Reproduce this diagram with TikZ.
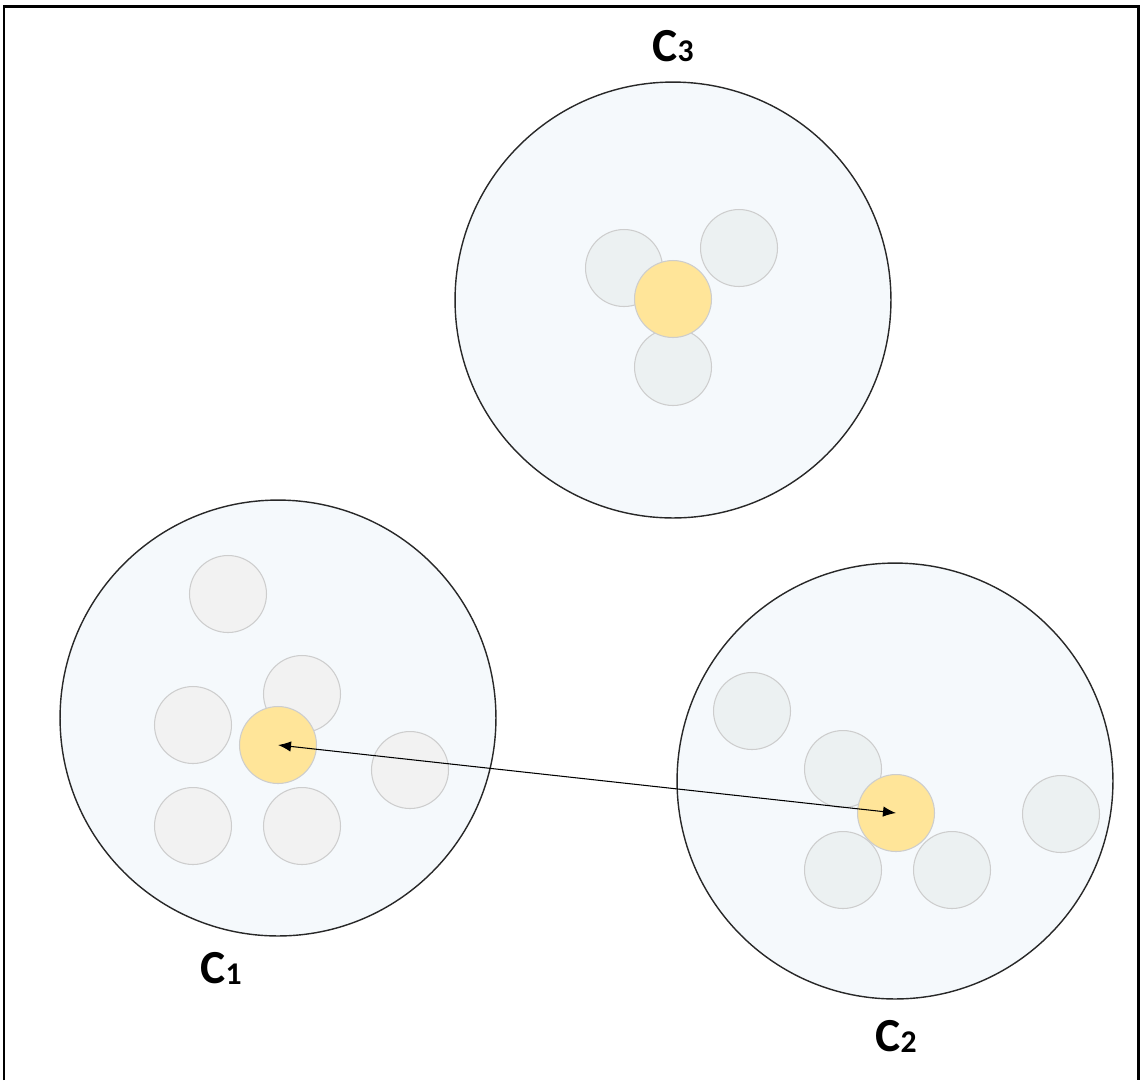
\documentclass[tikz,border=0pt]{standalone}
\usepackage{fontspec}
\setmainfont{Carlito}
\usetikzlibrary{arrows.meta}
\definecolor{clfill}{RGB}{245,249,252}
\definecolor{clline}{RGB}{40,40,40}
\definecolor{ptgray}{RGB}{242,242,242}
\definecolor{ptblue}{RGB}{236,241,242}
\definecolor{ptline}{RGB}{205,205,205}
\definecolor{cenfill}{RGB}{255,229,153}
\tikzset{
  frame/.style={line width=1.7pt, black},
  clus/.style={circle, draw=clline, fill=clfill, line width=0.8pt,
               inner sep=0pt, minimum size=8.72cm},
  pt/.style={circle, draw=ptline, fill=ptgray, line width=0.6pt,
             inner sep=0pt, minimum size=1.54cm},
  ptb/.style={pt, fill=ptblue},
  cen/.style={pt, fill=cenfill},
  link/.style={{Latex[length=2.6mm,width=2.1mm]}-{Latex[length=2.6mm,width=2.1mm]}, line width=0.6pt},
  clab/.style={font=\fontsize{27}{30}\selectfont\bfseries, inner sep=0pt},
}
\newcommand{\cname}[1]{C\raisebox{-0.5pt}{\fontsize{18}{20}\selectfont #1}}

\begin{document}
\begin{tikzpicture}[x=0.02cm, y=-0.02cm]
  \useasboundingbox (0,0) rectangle (1142,1080);
  \draw[frame] (4,1080) -- (4,6) -- (1138,6) -- (1138,1080);
  % clusters
  \node[clus] (k3) at (673,300) {};
  \node[clus] (k1) at (278,718) {};
  \node[clus] (k2) at (895,781) {};
  % members
  \foreach \a/\b [count=\i] in {228/594, 302/694, 193/725, 410/770, 193/826, 302/826}
    \node[pt] (p1-\i) at (\a,\b) {};
  \foreach \a/\b [count=\i] in {752/711, 843/769, 1061/814, 843/870, 952/870}
    \node[ptb] (p2-\i) at (\a,\b) {};
  \foreach \a/\b [count=\i] in {624/268, 739/248, 673/367}
    \node[ptb] (p3-\i) at (\a,\b) {};
  % centroids
  \node[cen] (m1) at (278,745) {};
  \node[cen] (m2) at (896,813) {};
  \node[cen] (m3) at (673,299) {};
  \draw[link] (m2.center) -- (m1.center);
  % labels
  \node[clab] (l3) at (673,46) {\cname{3}};
  \node[clab] (l1) at (221,968) {\cname{1}};
  \node[clab] (l2) at (896,1036) {\cname{2}};
\end{tikzpicture}
\end{document}
